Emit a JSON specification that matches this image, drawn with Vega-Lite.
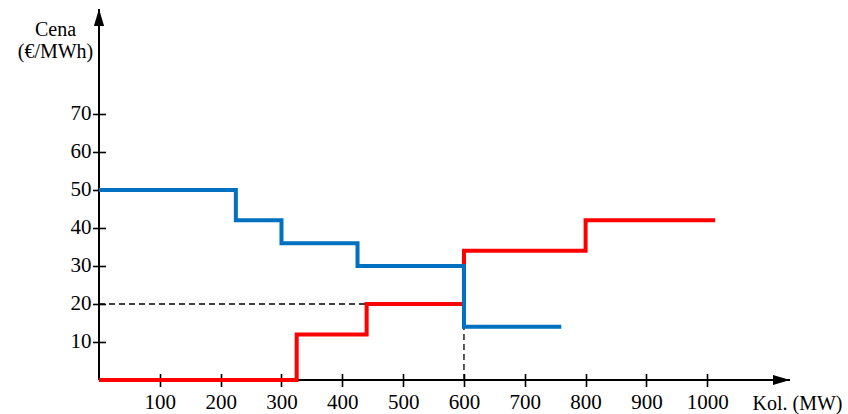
{
  "$schema": "https://vega.github.io/schema/vega-lite/v6.json",
  "width": 691,
  "height": 371,
  "autosize": {"type": "none"},
  "padding": {"left": 99, "top": 9, "right": 58, "bottom": 34},
  "background": "white",
  "config": {
    "view": {"stroke": null},
    "font": "Liberation Serif",
    "axis": {"grid": false, "labelFont": "Liberation Serif", "titleFont": "Liberation Serif", "labelColor": "black", "titleColor": "black", "tickColor": "black", "labelFontSize": 21, "titleFontSize": 20, "titleFontWeight": "normal"}
  },
  "datasets": {
    "supply": [
      {"q": 0, "p": 0}, {"q": 325, "p": 12}, {"q": 440, "p": 20}, {"q": 600, "p": 34}, {"q": 800, "p": 42}, {"q": 1013, "p": 42}
    ],
    "demand": [
      {"q": 0, "p": 50}, {"q": 225, "p": 42}, {"q": 300, "p": 36}, {"q": 425, "p": 30}, {"q": 600, "p": 14}, {"q": 760, "p": 14}
    ],
    "xaxisline": [{"q": 0, "q2": 1136, "p": 0}],
    "yaxisline": [{"q": 0, "p": 0, "p2": 97.6}],
    "hdash": [{"q": 0, "q2": 440, "p": 20}],
    "vdash": [{"q": 600, "p": 0, "p2": 14}],
    "xarrow": [{"q": 1136, "p": 0}],
    "yarrow": [{"q": 0, "p": 97.6}]
  },
  "encoding": {
    "x": {
      "field": "q", "type": "quantitative",
      "scale": {"domain": [0, 1136], "nice": false, "zero": false},
      "axis": {
        "values": [100, 200, 300, 400, 500, 600, 700, 800, 900, 1000], "format": "d",
        "labelFont": "Liberation Serif", "titleFont": "Liberation Serif",
        "domain": false, "ticks": true, "tickSize": 13, "tickWidth": 1.6, "offset": -6.5, "labelPadding": 5,
        "title": "Kol. (MW)", "titleX": 698, "titleY": 29.5, "titleAlign": "center", "titleBaseline": "middle", "titleAngle": 0,
        "labelFlush": false, "labelOverlap": false
      }
    },
    "y": {
      "field": "p", "type": "quantitative",
      "scale": {"domain": [0, 97.6], "nice": false, "zero": false},
      "axis": {
        "values": [10, 20, 30, 40, 50, 60, 70], "format": "d",
        "labelFont": "Liberation Serif", "titleFont": "Liberation Serif",
        "domain": false, "ticks": true, "tickSize": 13, "tickWidth": 1.6, "offset": -6.5, "labelPadding": 1.5,
        "title": ["Cena", "(€/MWh)"], "titleX": -50.5, "titleY": 20, "titleAlign": "center", "titleBaseline": "middle", "titleAngle": 0, "titleLineHeight": 22,
        "labelFlush": false, "labelOverlap": false
      }
    }
  },
  "layer": [
    {
      "data": {"name": "xaxisline"},
      "mark": {"type": "rule", "color": "black", "strokeWidth": 2},
      "encoding": {"x2": {"field": "q2"}}
    },
    {
      "data": {"name": "yaxisline"},
      "mark": {"type": "rule", "color": "black", "strokeWidth": 2},
      "encoding": {"y2": {"field": "p2"}}
    },
    {
      "data": {"name": "hdash"},
      "mark": {"type": "rule", "color": "black", "strokeWidth": 1.3, "strokeDash": [6, 4]},
      "encoding": {"x2": {"field": "q2"}}
    },
    {
      "data": {"name": "vdash"},
      "mark": {"type": "rule", "color": "black", "strokeWidth": 1.3, "strokeDash": [6, 4]},
      "encoding": {"y2": {"field": "p2"}}
    },
    {
      "data": {"name": "supply"},
      "mark": {"type": "line", "interpolate": "step-after", "color": "#FF0000", "strokeWidth": 4, "strokeCap": "butt", "strokeJoin": "miter"}
    },
    {
      "data": {"name": "demand"},
      "mark": {"type": "line", "interpolate": "step-after", "color": "#0070C0", "strokeWidth": 4, "strokeCap": "butt", "strokeJoin": "miter"}
    },
    {
      "data": {"name": "xarrow"},
      "mark": {"type": "point", "shape": "M0,0L-1,-0.3L-1,0.3Z", "filled": true, "color": "black", "size": 1156, "opacity": 1, "strokeWidth": 0}
    },
    {
      "data": {"name": "yarrow"},
      "mark": {"type": "point", "shape": "M0,0L-0.3,1L0.3,1Z", "filled": true, "color": "black", "size": 1156, "opacity": 1, "strokeWidth": 0}
    }
  ]
}
